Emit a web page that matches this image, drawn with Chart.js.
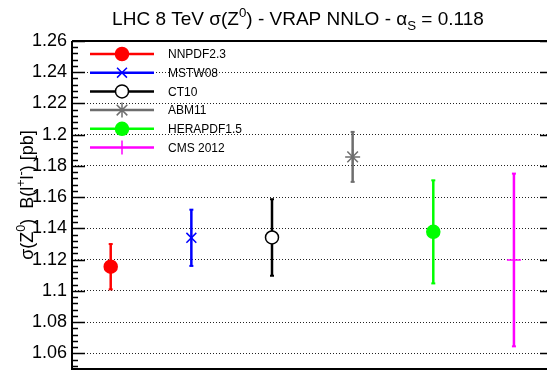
<!doctype html>
<html lang="en">
  <head>
    <meta charset="utf-8">
    <title>LHC 8 TeV Z cross section</title>
    <style>
      html, body { margin: 0; padding: 0; background: #fff; overflow: hidden; }
      .box { width: 547px; height: 370px; position: relative; }
    </style>
  </head>
  <body>
    <div class="box">
      <canvas id="zChart"></canvas>
    </div>

    <script src="https://cdn.jsdelivr.net/npm/chart.js/dist/chart.umd.min.js"></script>
    <script>
    // data
    const seriesNames = ['NNPDF2.3', 'MSTW08', 'CT10', 'ABM11', 'HERAPDF1.5', 'CMS 2012'];
    const positions = [0, 1, 2, 3, 4, 5];
    const centralValues = [1.1155, 1.134, 1.1342, 1.1858, 1.1378, 1.1198];
    const errors = [0.0145, 0.018, 0.0245, 0.016, 0.033, 0.0553];
    const tickValues = [1.06, 1.08, 1.1, 1.12, 1.14, 1.16, 1.18, 1.2, 1.22, 1.24, 1.26];
    const tickLabels = ['1.06', '1.08', '1.1', '1.12', '1.14', '1.16', '1.18', '1.2', '1.22', '1.24', '1.26'];

    const colors = ['#ff0000', '#0000ff', '#000000', '#6e6e6e', '#00ff00', '#ff00ff'];
    const markers = ['circle', 'crossRot', 'circle', 'star', 'circle', 'cross'];
    const fills = ['#ff0000', '#0000ff', '#ffffff', '#6e6e6e', '#00ff00', '#ff00ff'];
    const sizes = [6.5, 7, 6.5, 7.5, 6.5, 7];

    const FONT = '"Liberation Sans", Arial, Helvetica, sans-serif';

    const datasets = seriesNames.map((name, i) => ({
      label: name,
      data: [{ x: positions[i], y: centralValues[i] }],
      err: errors[i],
      pointStyle: markers[i],
      pointRadius: sizes[i],
      pointBorderWidth: 1.5,
      borderColor: colors[i],
      backgroundColor: fills[i],
      pointBackgroundColor: fills[i],
      pointBorderColor: colors[i]
    }));

    // text with super/subscripts
    function richText(ctx, parts, size) {
      let w = 0;
      parts.forEach(p => {
        ctx.font = (p.sup || p.sub ? size * 0.7 : size) + 'px ' + FONT;
        p.w = ctx.measureText(p.t).width;
        w += p.w;
      });
      return w;
    }
    function drawRich(ctx, parts, x, y, size) {
      parts.forEach(p => {
        ctx.font = (p.sup || p.sub ? size * 0.7 : size) + 'px ' + FONT;
        let dy = p.sup ? -size * 0.42 : (p.sub ? size * 0.28 : 0);
        ctx.fillText(p.t, x, y + dy);
        x += p.w;
      });
    }

    const decorations = {
      id: 'decorations',
      beforeDatasetsDraw(chart) {
        const ctx = chart.ctx;
        const xs = chart.scales.x, ys = chart.scales.y;
        ctx.save();
        // error bars
        chart.data.datasets.forEach((ds, i) => {
          const px = xs.getPixelForValue(ds.data[0].x);
          const top = ys.getPixelForValue(ds.data[0].y + ds.err);
          const bot = ys.getPixelForValue(ds.data[0].y - ds.err);
          ctx.strokeStyle = colors[i];
          ctx.lineWidth = 2.5;
          ctx.beginPath();
          ctx.moveTo(px, top);
          ctx.lineTo(px, bot);
          ctx.stroke();
          ctx.fillStyle = colors[i];
          ctx.fillRect(px - 2, top - 1, 4, 2);
          ctx.fillRect(px - 2, bot - 1, 4, 2);
        });
        ctx.restore();
      },
      afterDraw(chart) {
        const ctx = chart.ctx;
        const a = chart.chartArea;
        const ys = chart.scales.y;
        ctx.save();
        // frame
        ctx.strokeStyle = '#000';
        ctx.lineWidth = 2;
        ctx.beginPath();
        ctx.moveTo(a.left, a.top);
        ctx.lineTo(chart.width, a.top);
        ctx.moveTo(a.left, a.top);
        ctx.lineTo(a.left, a.bottom);
        ctx.lineTo(chart.width, a.bottom);
        ctx.stroke();
        // inward ticks
        ctx.lineWidth = 1.5;
        ctx.beginPath();
        for (let k = 0; k <= 52; k++) {
          const v = 1.052 + k * 0.004;
          if (v > ys.max + 1e-9) break;
          const py = Math.round(ys.getPixelForValue(v)) + 0.5;
          const major = tickValues.some(t => Math.abs(t - v) < 1e-6);
          ctx.moveTo(a.left, py);
          ctx.lineTo(a.left + (major ? 13 : 6), py);
          if (major) {
            ctx.moveTo(chart.width - 7, py);
            ctx.lineTo(chart.width, py);
          }
        }
        ctx.stroke();

        // title
        ctx.fillStyle = '#000';
        ctx.textBaseline = 'alphabetic';
        const title = [
          { t: 'LHC 8 TeV \u03c3(Z' }, { t: '0', sup: true }, { t: ') - VRAP NNLO - \u03b1' },
          { t: 'S', sub: true }, { t: ' = 0.118' }
        ];
        const tw = richText(ctx, title, 19);
        drawRich(ctx, title, 298 - tw / 2, 25, 19);

        // y axis title
        const ylab = [
          { t: '\u03c3(Z' }, { t: '0', sup: true }, { t: ')  B(l' }, { t: '+', sup: true },
          { t: 'l' }, { t: '-', sup: true }, { t: ') [pb]' }
        ];
        ctx.save();
        ctx.translate(33, 195);
        ctx.rotate(-Math.PI / 2);
        const lw = richText(ctx, ylab, 18);
        drawRich(ctx, ylab, -lw / 2, 0, 18);
        ctx.restore();

        // legend: line + marker + name
        chart.data.datasets.forEach((ds, i) => {
          const ly = 54 + i * 18.7;
          ctx.strokeStyle = colors[i];
          ctx.lineWidth = 2.5;
          ctx.beginPath();
          ctx.moveTo(90, ly);
          ctx.lineTo(154, ly);
          ctx.stroke();
          if (markers[i] === 'cross') {
            ctx.lineWidth = 1.5;
            ctx.beginPath();
            ctx.moveTo(122, ly - 7);
            ctx.lineTo(122, ly + 7);
            ctx.stroke();
          } else {
            ctx.fillStyle = fills[i];
            ctx.lineWidth = 1.5;
            Chart.helpers.drawPoint(ctx, { pointStyle: markers[i], radius: sizes[i], borderWidth: 1.5 }, 122, ly);
          }
          ctx.fillStyle = '#000';
          ctx.font = '12px ' + FONT;
          ctx.textBaseline = 'middle';
          ctx.fillText(ds.label, 168, ly + 1);
        });
        ctx.restore();
      }
    };

    const zChart = new Chart(document.getElementById('zChart'), {
      type: 'scatter',
      data: { datasets: datasets },
      options: {
        responsive: true,
        maintainAspectRatio: false,
        animation: false,
        layout: { autoPadding: false, padding: { top: 41, left: 0, right: 0, bottom: 1 } },
        plugins: { legend: { display: false }, tooltip: { enabled: false } },
        scales: {
          x: { type: 'linear', min: -0.48, max: 5.41, display: false },
          y: {
            min: 1.05,
            max: 1.26,
            afterBuildTicks: scale => { scale.ticks = tickValues.map(v => ({ value: v })); },
            afterFit: scale => {
              scale.width = 72;
              scale.paddingTop = 0;
              scale.paddingBottom = 0;
              scale.paddingLeft = 0;
              scale.paddingRight = 0;
            },
            ticks: {
              padding: 5,
              color: '#000',
              font: { family: FONT, size: 18 },
              callback: (v) => tickLabels[tickValues.findIndex(t => Math.abs(t - v) < 1e-6)]
            },
            grid: { color: '#222', lineWidth: 1, drawTicks: false },
            border: { display: false, dash: [1, 2] }
          }
        }
      },
      plugins: [decorations]
    });
    </script>
  </body>
</html>
